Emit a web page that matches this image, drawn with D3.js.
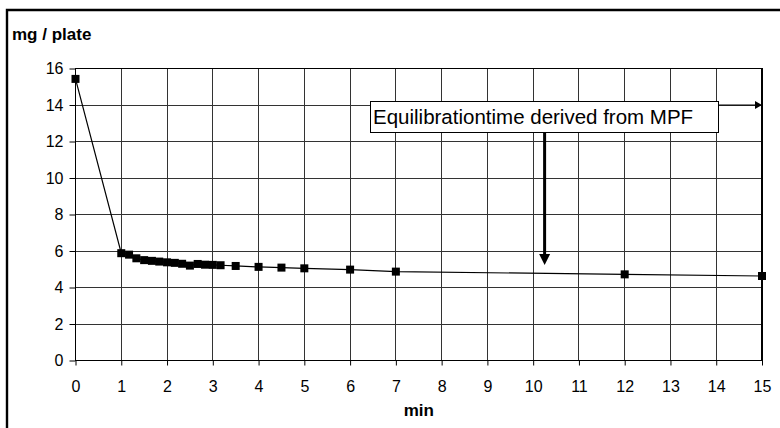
<!DOCTYPE html>
<html><head><meta charset="utf-8">
<script src="https://cdn.jsdelivr.net/npm/d3@7"></script>
<style>body{margin:0;background:#fff}svg{display:block}text{font-family:"Liberation Sans",Arial,sans-serif}</style>
</head><body>
<svg id="c" width="780" height="428"></svg>
<script>
const minutes = [0,1,1.17,1.33,1.5,1.67,1.83,2,2.17,2.33,2.5,2.67,2.83,3,3.17,3.5,4,4.5,5,6,7,12,15];
const mgPerPlate = [15.43,5.88,5.8,5.6,5.5,5.46,5.42,5.38,5.35,5.3,5.2,5.29,5.25,5.24,5.22,5.18,5.13,5.09,5.05,4.98,4.87,4.72,4.63];
const xTicks = d3.range(0,16,1);
const yTicks = [0,2,4,6,8,10,12,14,16];
const annotationText = "Equilibrationtime derived from MPF";
const annotationX = 10.25;
const annotationY = 14;

const svg = d3.select("#c");
const m = {l:75.5, r:762, t:68.5, b:360.5};
const x = d3.scaleLinear().domain([0,15]).range([m.l,m.r]);
const y = d3.scaleLinear().domain([0,16]).range([m.b,m.t]);

// outer frame (left + top visible)
svg.append("path").attr("d","M7,428 V10 H780").attr("fill","none").attr("stroke","#000").attr("stroke-width",2.4);

// grid
const g = svg.append("g").attr("shape-rendering","crispEdges");
g.selectAll(".gx").data(xTicks).join("line").attr("x1",d=>x(d)).attr("x2",d=>x(d)).attr("y1",m.t).attr("y2",m.b).attr("stroke","#333").attr("stroke-width",1);
g.selectAll(".gy").data(yTicks).join("line").attr("y1",d=>y(d)).attr("y2",d=>y(d)).attr("x1",m.l).attr("x2",m.r).attr("stroke","#333").attr("stroke-width",1);
g.append("rect").attr("x",m.l).attr("y",m.t).attr("width",m.r-m.l).attr("height",m.b-m.t).attr("fill","none").attr("stroke","#000").attr("stroke-width",1.3);

// axes
const xa = svg.append("g").attr("transform",`translate(0,${m.b})`).call(d3.axisBottom(x).tickValues(xTicks).tickSize(5).tickPadding(15).tickFormat(d3.format("d")));
const ya = svg.append("g").attr("transform",`translate(${m.l},0)`).call(d3.axisLeft(y).tickValues(yTicks).tickSize(6).tickPadding(6).tickFormat(d3.format("d")));
[xa,ya].forEach(a=>{a.select(".domain").remove();a.selectAll("line").attr("stroke","#000");a.selectAll("text").attr("font-size",16).attr("fill","#000").attr("font-family","Liberation Sans, Arial, sans-serif");});

// titles
svg.append("text").attr("x",12).attr("y",40).attr("font-size",17).attr("font-weight","bold").text("mg / plate");
svg.append("text").attr("x",x(7.5)).attr("y",416).attr("text-anchor","middle").attr("font-size",17).attr("font-weight","bold").text("min");

// line + markers
const data = minutes.map((d,i)=>({x:d,y:mgPerPlate[i]}));
svg.append("path").datum(data).attr("d",d3.line().x(d=>x(d.x)).y(d=>y(d.y))).attr("fill","none").attr("stroke","#000").attr("stroke-width",1.2);
svg.selectAll(".pt").data(data).join("rect").attr("x",d=>x(d.x)-4).attr("y",d=>y(d.y)-4).attr("width",8).attr("height",8).attr("fill","#000");

// annotation arrows
const ax = x(annotationX);
svg.append("line").attr("x1",718).attr("x2",x(15)-6).attr("y1",y(annotationY)).attr("y2",y(annotationY)).attr("stroke","#000").attr("stroke-width",1);
svg.append("path").attr("d",`M${x(15)},${y(annotationY)} l-7,-4 v8 z`).attr("fill","#000");
svg.append("line").attr("x1",ax).attr("x2",ax).attr("y1",133).attr("y2",256).attr("stroke","#000").attr("stroke-width",3);
svg.append("path").attr("d",`M${ax},265 l-5.5,-11 h11 z`).attr("fill","#000");

// annotation box
svg.append("rect").attr("x",370.5).attr("y",101.5).attr("width",348).attr("height",31).attr("fill","#fff").attr("stroke","#000").attr("stroke-width",1);
svg.append("text").attr("x",373).attr("y",123.5).attr("font-size",20.5).text(annotationText);
</script>
</body></html>
